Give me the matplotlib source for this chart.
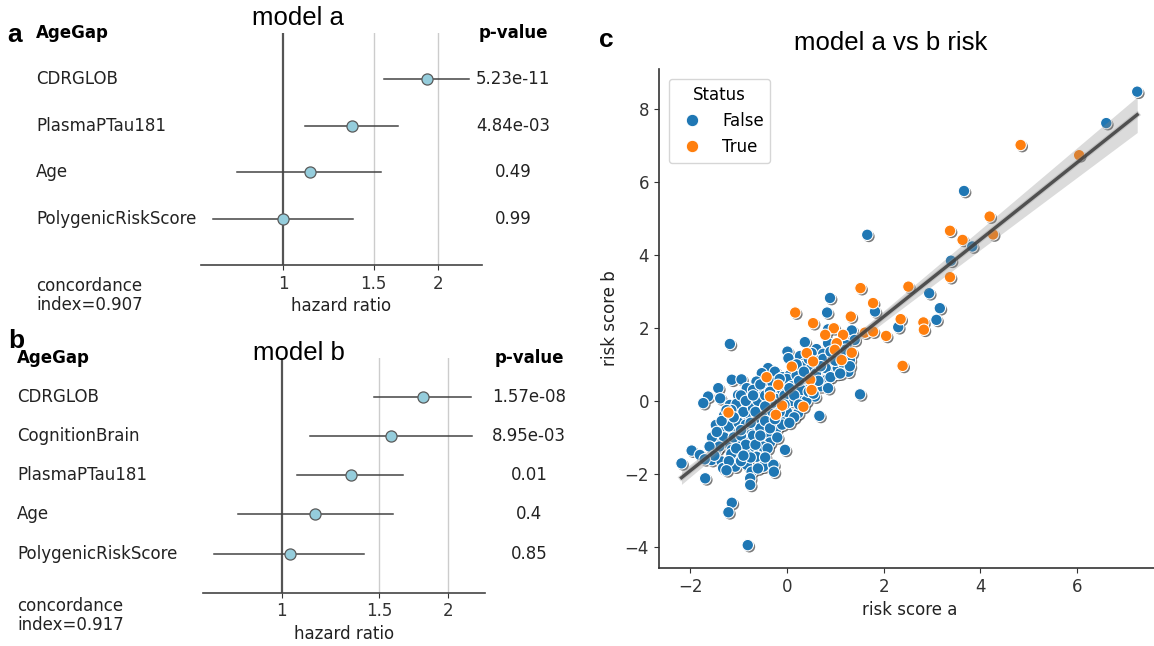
import numpy as np
import matplotlib
matplotlib.use("Agg")
import matplotlib.pyplot as plt
import matplotlib.patheffects as pe
import matplotlib.transforms as mtransforms
from matplotlib.lines import Line2D

plt.rcParams['font.family'] = ['DejaVu Sans']
TITLE_FONT = ['Liberation Sans', 'DejaVu Sans']

# ---- forest plot data (hazard ratios with 95% CI) ----
vars_a = ["CDRGLOB", "PlasmaPTau181", "Age", "PolygenicRiskScore"]
hr_a = [1.906, 1.361, 1.126, 0.997]
lo_a = [1.571, 1.100, 0.813, 0.728]
hi_a = [2.305, 1.676, 1.553, 1.369]
p_a = ["5.23e-11", "4.84e-03", "0.49", "0.99"]
cindex_a = 0.907

vars_b = ["CDRGLOB", "CognitionBrain", "PlasmaPTau181", "Age", "PolygenicRiskScore"]
hr_b = [1.800, 1.573, 1.333, 1.150, 1.035]
lo_b = [1.467, 1.122, 1.067, 0.833, 0.755]
hi_b = [2.198, 2.210, 1.655, 1.590, 1.409]
p_b = ["1.57e-08", "8.95e-03", "0.01", "0.4", "0.85"]
cindex_b = 0.917

# ---- scatter data: risk score a vs risk score b ----
false_a = [7.24, 6.60, 3.66, 1.66, 3.83, 3.39, 2.94, 3.16, 0.89, 1.82, 3.09, 0.83, 2.30, 0.85, 1.34,
           1.40, -1.18, 0.37, 0.85, 1.23, 0.61, 0.01, 0.51, 0.75, 0.03, 0.27, 1.20, 1.30, 0.37, 0.82,
           0.99, 1.16, 1.27, -0.39, -0.25, 0.20, 0.51, 0.68, 0.85, 1.03, -0.52, -0.09, 0.06, 0.30, 0.61,
           0.82, -1.14, -0.94, -0.63, -0.35, -0.01, 0.20, 0.37, 0.58, -1.42, -0.83, -0.52, -0.14, 0.13,
           -1.63, -1.38, -1.01, -0.76, -0.63, -0.01, 0.27, 0.58, 1.51, -1.73, -1.18, -0.90, -0.52, -0.28,
           0.67, 0.23, -1.04, -0.83, -0.56, -0.08, -1.47, -1.25, -1.01, -0.76, -0.63, -0.42, -0.28, -0.21,
           -1.32, -1.07, -0.76, -0.52, -0.35, -1.49, -1.25, -1.01, -0.80, -0.59, -0.35, -1.45, -1.14, -0.90,
           -0.70, -0.04, -1.97, -1.80, -1.56, -1.35, -1.11, -0.83, -0.63, -2.18, -1.32, -1.07, -0.83, -0.49,
           -0.28, -0.27, -1.69, -0.73, -0.76, -0.76, -1.14, -1.21, -0.81,
           -1.30, -1.20, -1.10, -1.00, -0.95, -0.90, -0.85, -0.70, -0.70, -0.60, -0.60, -0.50, -0.50, -0.45,
           -0.40, -0.30, -0.30, -0.20, -0.20, -0.10, -0.10, 0.00, 0.00, 0.10, 0.10, 0.20, 0.15, 0.30, 0.30,
           0.40, 0.40, 0.50, 0.45, 0.60, 0.65, 0.70, 0.75, 0.80, 0.90, 0.95, 1.05, 1.15,
           -1.15, -0.95, -0.75, -1.40, -1.55, -1.30, -1.15, -0.95, -0.70, -0.30, -0.05, 0.25, 0.55, -1.60,
           -0.55, -0.40, -0.85, -1.20,
           -1.45, -1.35, -1.25, -1.10, -1.05, -0.95, -0.90, -0.85, -0.75, -0.70, -0.65, -0.65, -0.55, -0.55,
           -0.45, -0.45, -0.35, -0.35, -0.25, -0.15, -0.15, -0.05, 0.05, 0.05, 0.15, 0.20, 0.25, 0.35,
           0.45, 0.55, 0.65, 0.70, 0.85, 0.90, 1.00, 1.10, 1.20, 1.30, -1.50, -1.70, -1.25, -0.60, -0.45]
false_b = [8.47, 7.61, 5.75, 4.55, 4.23, 3.84, 2.95, 2.54, 2.82, 2.45, 2.22, 2.42, 2.02, 1.96, 1.93,
           1.67, 1.56, 1.61, 1.58, 1.53, 1.42, 1.35, 1.31, 1.29, 1.17, 1.23, 1.26, 1.12, 1.03, 1.03,
           0.99, 0.94, 0.80, 0.90, 0.80, 0.83, 0.80, 0.87, 0.83, 0.74, 0.76, 0.65, 0.71, 0.65, 0.62,
           0.58, 0.58, 0.59, 0.53, 0.44, 0.48, 0.44, 0.39, 0.35, 0.35, 0.35, 0.30, 0.25, 0.25,
           0.12, 0.07, 0.16, 0.07, 0.12, 0.07, 0.12, 0.12, 0.18, -0.06, -0.11, -0.06, -0.11, -0.16,
           -0.41, -0.34, -0.08, -0.02, -0.16, -0.52, -0.66, -0.52, -0.47, -0.38, -0.52, -0.43, -0.70, -0.75,
           -0.84, -0.84, -0.84, -0.89, -0.93, -1.11, -1.16, -1.14, -1.11, -1.07, -1.14, -1.34, -1.34, -1.30,
           -1.34, -1.34, -1.36, -1.48, -1.62, -1.66, -1.57, -1.48, -1.53, -1.71, -1.84, -1.80, -1.75, -1.80,
           -1.75, -1.94, -2.12, -1.94, -2.12, -2.30, -2.79, -3.05, -3.95,
           -1.00, -0.70, -1.00, -0.60, -0.95, -0.30, -0.65, -0.20, -0.95, -0.65, 0.00, -0.30, -1.25, 0.15,
           -0.60, -0.30, 0.50, 0.05, -1.00, 0.30, -0.65, 0.60, -0.30, 0.00, 0.40, 0.70, -0.45, 0.30, 0.95,
           0.60, 0.00, 0.90, 0.25, 0.75, 1.10, 0.40, 1.15, 0.90, 0.65, 1.20, 0.90, 1.05,
           -1.45, -1.65, -1.55, -1.25, -1.00, -0.40, -0.25, 0.15, 0.30, -0.05, 0.15, 0.55, 0.50, -1.25,
           -0.75, -1.30, -1.20, -1.65,
           -0.85, -0.55, -0.25, -0.45, -1.30, -0.80, -1.50, 0.00, -0.60, 0.15, -1.20, -0.30, 0.45, -0.95,
           -0.15, -0.55, -0.75, 0.25, -0.50, -0.30, 0.60, -0.10, 0.35, -0.60, 0.15, 1.00, -0.10, 0.80,
           1.15, 0.20, 0.55, 0.95, 0.35, 1.35, 1.10, 0.75, 1.40, 0.95, -1.50, -1.60, -1.90, -1.85, -1.55]
true_a = [4.83, 6.04, 4.19, 3.37, 4.26, 3.63, 3.37, 2.51, 1.52, 1.78, 1.32, 2.35, 2.82, 2.83, 2.05,
          2.39, 0.17, 0.54, 0.97, 0.79, 1.16, 1.61, 1.78, 1.03, 1.34, 0.99, 0.41, 1.13, 0.54, 0.10,
          -0.42, 0.48, -0.18, -0.35, 0.51, -0.10, 0.34, -1.21, -0.23]
true_b = [7.01, 6.73, 5.05, 4.66, 4.56, 4.41, 3.39, 3.13, 3.09, 2.68, 2.31, 2.24, 2.15, 1.95, 1.78,
          0.96, 2.42, 2.13, 1.99, 1.81, 1.81, 1.87, 1.90, 1.58, 1.32, 1.40, 1.31, 1.12, 1.08, 0.94,
          0.65, 0.58, 0.44, 0.12, 0.30, -0.13, -0.16, -0.32, -0.38]

W, H = 1154, 646
fig = plt.figure(figsize=(W / 100, H / 100), dpi=100)


def fx(px):
    return px / W


def fy(py):
    return 1 - py / H


def forest(ax, names, hr, lo, hi, pvals, label_x, p_x, xlim):
    n = len(names)
    rows = np.arange(1, n + 1)
    ax.set_xscale('log')
    ax.set_xlim(*xlim)
    ax.set_ylim(n + 1, 0)
    for g in [1.5, 2]:
        ax.axvline(g, color='#cccccc', lw=1, zorder=0)
    ax.axvline(1, color='#555555', lw=1.6, zorder=1)
    for r, h, l, u in zip(rows, hr, lo, hi):
        ax.plot([l, u], [r, r], color='#444444', lw=1.1, zorder=2)
        ax.plot(h, r, marker='o', ms=8, mfc='#95cddc', mec='#5a5a5a', mew=0.9, zorder=3)
    ax.set_xticks([1, 1.5, 2])
    ax.set_xticklabels(['1', '1.5', '2'])
    ax.xaxis.set_minor_locator(matplotlib.ticker.NullLocator())
    ax.set_yticks([])
    for s in ['top', 'right', 'left']:
        ax.spines[s].set_visible(False)
    ax.spines['bottom'].set_color('#444444')
    ax.spines['bottom'].set_linewidth(1.2)
    ax.tick_params(axis='x', labelsize=12, colors='#333333')
    ax.set_xlabel('hazard ratio', fontsize=12, color='#222222', labelpad=3)
    tr = mtransforms.blended_transform_factory(fig.transFigure, ax.transData)
    ax.text(label_x, 0, 'AgeGap', transform=tr, fontsize=12, fontweight='bold', va='center', ha='left')
    ax.text(p_x, 0, 'p-value', transform=tr, fontsize=12, fontweight='bold', va='center', ha='center')
    for r, name, p in zip(rows, names, pvals):
        ax.text(label_x, r, name, transform=tr, fontsize=12, va='center', ha='left', color='#222222')
        ax.text(p_x, r, p, transform=tr, fontsize=12, va='center', ha='center', color='#222222')


# panel a
ax_a = fig.add_axes([fx(200.7), fy(265), fx(482.3 - 200.7), (265 - 33) / H])
forest(ax_a, vars_a, hr_a, lo_a, hi_a, p_a, fx(36), fx(513), (0.690, 2.443))
fig.text(fx(36), fy(277), f'concordance\nindex={cindex_a}', fontsize=12, va='top', ha='left',
         linespacing=1.05, color='#222222')
fig.text(fx(298), fy(18), 'model a', fontsize=18.5, family=TITLE_FONT, ha='center', va='center')
fig.text(fx(15), fy(35), 'a', fontsize=19, family=TITLE_FONT, fontweight='bold', ha='center', va='center')

# panel b
ax_b = fig.add_axes([fx(202.7), fy(592.7), fx(485 - 202.7), (592.7 - 358) / H])
forest(ax_b, vars_b, hr_b, lo_b, hi_b, p_b, fx(17), fx(529), (0.719, 2.33))
fig.text(fx(17), fy(597), f'concordance\nindex={cindex_b}', fontsize=12, va='top', ha='left',
         linespacing=1.05, color='#222222')
fig.text(fx(299), fy(353), 'model b', fontsize=18.5, family=TITLE_FONT, ha='center', va='center')
fig.text(fx(16), fy(341), 'b', fontsize=19, family=TITLE_FONT, fontweight='bold', ha='center', va='center')

# panel c
risk_a = np.array(false_a + true_a)
risk_b = np.array(false_b + true_b)
status = np.array([False] * len(false_a) + [True] * len(true_a))
blue, orange = '#1f77b4', '#ff7f0e'

ax_c = fig.add_axes([fx(658.7), fy(567.8), fx(1160 - 658.7), (567.8 - 69) / H])
colors = np.where(status, orange, blue)
sc = ax_c.scatter(risk_a, risk_b, c=colors, s=68, edgecolors='white', linewidths=0.8, zorder=2)
sc.set_path_effects([pe.SimplePatchShadow(offset=(1.2, -1.2), shadow_rgbFace='#222222', alpha=0.6),
                     pe.Normal()])

# linear fit with 95% confidence band
slope, intercept = np.polyfit(risk_a, risk_b, 1)
xs = np.linspace(risk_a.min(), risk_a.max(), 100)
ys = intercept + slope * xs
resid = risk_b - (intercept + slope * risk_a)
n = len(risk_a)
s_err = np.sqrt(np.sum(resid ** 2) / (n - 2))
sxx = np.sum((risk_a - risk_a.mean()) ** 2)
band = 1.97 * s_err * np.sqrt(1 / n + (xs - risk_a.mean()) ** 2 / sxx)
ax_c.fill_between(xs, ys - band, ys + band, color='#888888', alpha=0.3, lw=0, zorder=3)
ax_c.plot(xs, ys, color='#3c3c3c', lw=2.4, alpha=0.85, zorder=4,
          path_effects=[pe.Stroke(linewidth=4, foreground='#999999', alpha=0.35), pe.Normal()])

ax_c.spines['top'].set_visible(False)
ax_c.spines['right'].set_visible(False)
for s in ['left', 'bottom']:
    ax_c.spines[s].set_color('#333333')
    ax_c.spines[s].set_linewidth(1.2)
ax_c.tick_params(labelsize=12, colors='#333333')
ax_c.set_xlabel('risk score a', fontsize=12, color='#222222')
ax_c.set_ylabel('risk score b', fontsize=12, color='#222222')
handles = [Line2D([], [], ls='', marker='o', ms=9, mfc=blue, mec='white', mew=0.8),
           Line2D([], [], ls='', marker='o', ms=9, mfc=orange, mec='white', mew=0.8)]
leg = ax_c.legend(handles, ['False', 'True'], title='Status', loc='upper left', fontsize=12,
                  title_fontsize=12, borderaxespad=0.6, frameon=True)
leg.get_frame().set_edgecolor('#cccccc')
fig.text(fx(891), fy(43), 'model a vs b risk', fontsize=18.5, family=TITLE_FONT, ha='center', va='center')
fig.text(fx(606), fy(40), 'c', fontsize=19, family=TITLE_FONT, fontweight='bold', ha='center', va='center')

fig.savefig('out.png', dpi=100)
